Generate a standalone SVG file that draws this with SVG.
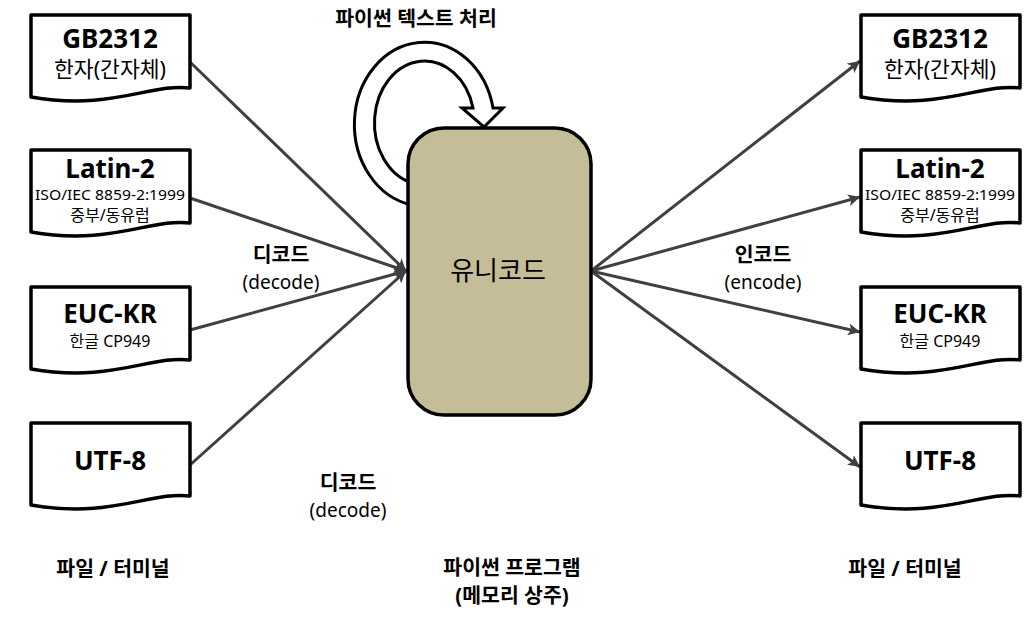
<svg xmlns="http://www.w3.org/2000/svg" width="1025" height="619" viewBox="0 0 1025 619">
<style>
text{font-family:"Noto Sans","Noto Sans CJK KR",sans-serif;fill:#000;text-anchor:middle}
.t{font-size:26px;font-weight:bold}
.s{font-size:21.5px}
.x{font-size:14px}
.k{font-size:16px}
.b{font-size:20.5px;font-weight:bold}
.n{font-size:19px}
.doc{fill:#fff;stroke:#000;stroke-width:3.5;stroke-linejoin:round}
.c{stroke:#404040;stroke-width:3;fill:none}
</style>
<defs>
<path id="d" d="M0,0 H159 V73 C120,68 80,96 0,82 Z"/>
<marker id="ah" markerUnits="userSpaceOnUse" markerWidth="14" markerHeight="12" refX="12" refY="6" orient="auto">
<path d="M0,0 L12,6 L0,12 L3,6 Z" fill="#404040"/>
</marker>
</defs>
<g id="connectors">
<line class="c" x1="190" y1="62" x2="406" y2="271" marker-end="url(#ah)"/>
<line class="c" x1="190" y1="198" x2="406" y2="271" marker-end="url(#ah)"/>
<line class="c" x1="190" y1="330" x2="406" y2="271" marker-end="url(#ah)"/>
<line class="c" x1="190" y1="465" x2="406" y2="271" marker-end="url(#ah)"/>
<line class="c" x1="591" y1="271" x2="860" y2="61" marker-end="url(#ah)"/>
<line class="c" x1="591" y1="271" x2="860" y2="197" marker-end="url(#ah)"/>
<line class="c" x1="591" y1="271" x2="860" y2="332" marker-end="url(#ah)"/>
<line class="c" x1="591" y1="271" x2="860" y2="467" marker-end="url(#ah)"/>
</g>
<g id="loop">
<path d="M412,205 A70 82 0 1 1 493,108 L503,108 L484,127 L462,108 L473,108 A50 62 0 1 0 412,183 Z" fill="#fff" stroke="#000" stroke-width="3" stroke-linejoin="miter"/>
<text class="b" x="416" y="26">파이썬 텍스트 처리</text>
</g>
<g id="unicode">
<rect x="408" y="128" width="183" height="287" rx="36" fill="#c4bd97" stroke="#000" stroke-width="3.5"/>
<text x="498" y="280" style="font-size:26px">유니코드</text>
</g>
<g id="l-gb2312">
<use href="#d" class="doc" x="31" y="15"/>
<text class="t" x="110" y="48">GB2312</text>
<text class="s" x="110" y="77">한자(간자체)</text>
</g>
<g id="l-latin2">
<use href="#d" class="doc" x="31" y="150"/>
<text class="t" x="110" y="178">Latin-2</text>
<text class="x" x="110" y="200" textLength="150" lengthAdjust="spacingAndGlyphs">ISO/IEC  8859-2:1999</text>
<text class="k" x="110" y="221">중부/동유럽</text>
</g>
<g id="l-euckr">
<use href="#d" class="doc" x="31" y="287"/>
<text class="t" x="110" y="323">EUC-KR</text>
<text class="k" x="110" y="347">한글  CP949</text>
</g>
<g id="l-utf8">
<use href="#d" class="doc" x="31" y="423"/>
<text class="t" x="110" y="470">UTF-8</text>
</g>
<g id="r-gb2312">
<use href="#d" class="doc" x="861" y="15"/>
<text class="t" x="940" y="48">GB2312</text>
<text class="s" x="940" y="77">한자(간자체)</text>
</g>
<g id="r-latin2">
<use href="#d" class="doc" x="861" y="150"/>
<text class="t" x="940" y="178">Latin-2</text>
<text class="x" x="940" y="200" textLength="150" lengthAdjust="spacingAndGlyphs">ISO/IEC  8859-2:1999</text>
<text class="k" x="940" y="221">중부/동유럽</text>
</g>
<g id="r-euckr">
<use href="#d" class="doc" x="861" y="287"/>
<text class="t" x="940" y="323">EUC-KR</text>
<text class="k" x="940" y="347">한글  CP949</text>
</g>
<g id="r-utf8">
<use href="#d" class="doc" x="861" y="423"/>
<text class="t" x="940" y="470">UTF-8</text>
</g>
<g id="labels">
<text class="b" x="281" y="262">디코드</text>
<text class="n" x="281" y="289">(decode)</text>
<text class="b" x="763" y="262">인코드</text>
<text class="n" x="763" y="289">(encode)</text>
<text class="b" x="348" y="490">디코드</text>
<text class="n" x="348" y="517">(decode)</text>
<text class="b" x="113" y="576">파일 / 터미널</text>
<text class="b" x="905" y="576">파일 / 터미널</text>
<text class="b" x="512" y="575">파이썬 프로그램</text>
<text class="b" x="512" y="603">(메모리 상주)</text>
</g>
</svg>
